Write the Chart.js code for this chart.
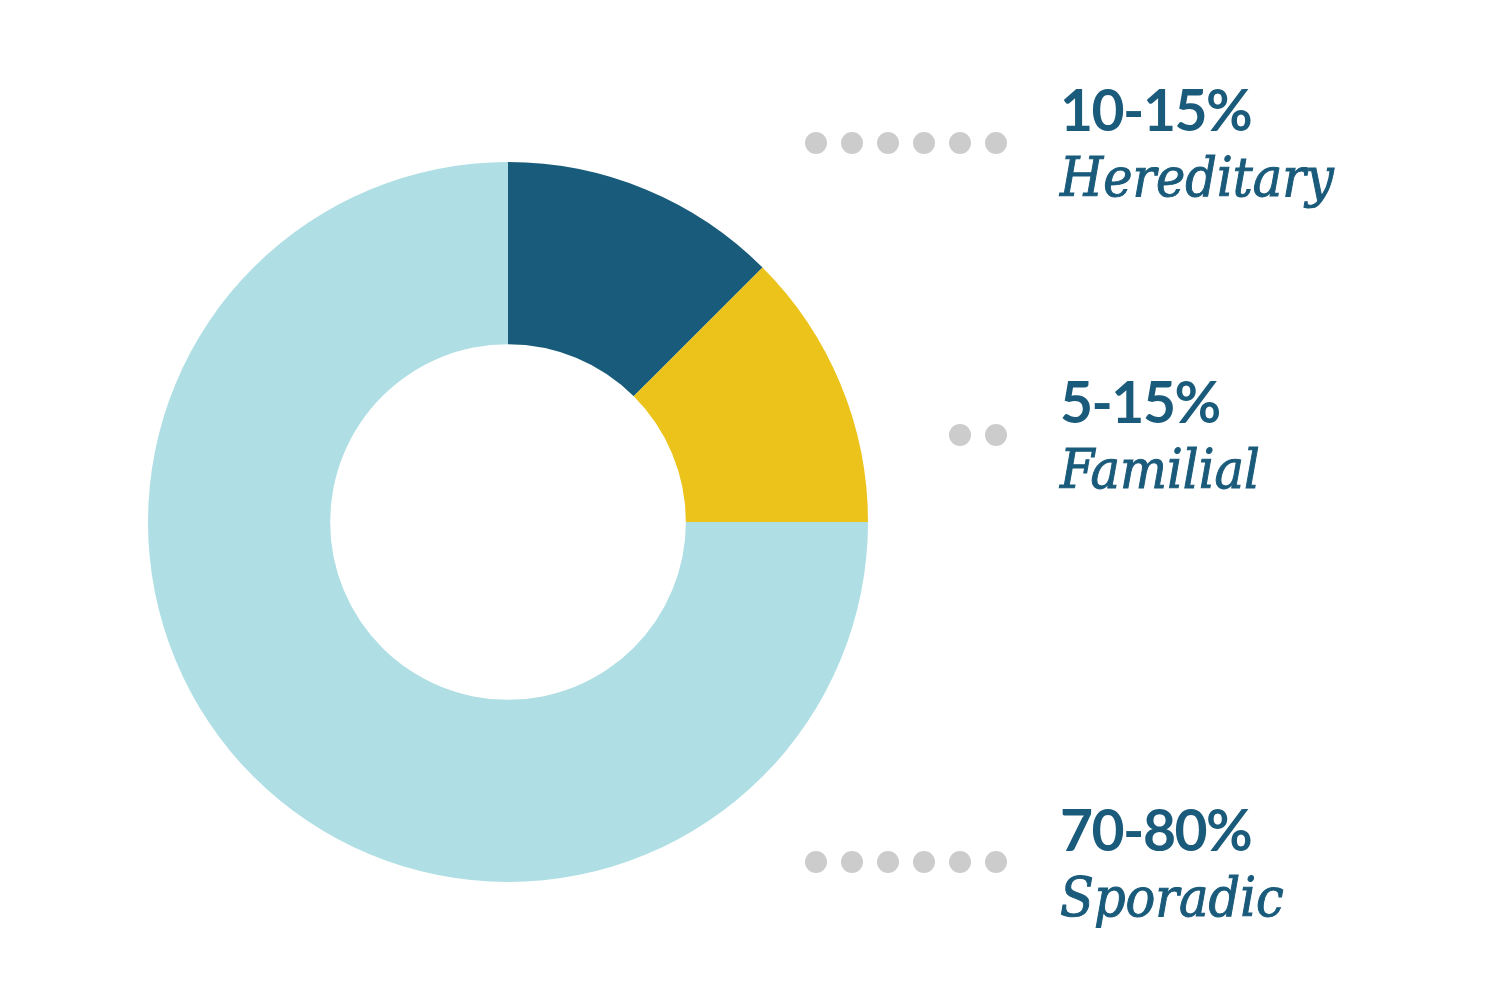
<!DOCTYPE html>
<html>
<head>
<meta charset="utf-8">
<script src="https://cdn.jsdelivr.net/npm/chart.js@4"></script>
<style>
  html, body { margin: 0; padding: 0; background: #ffffff; }
  body { width: 1500px; height: 1000px; position: relative; overflow: hidden; }
  #wrap { position: absolute; left: 148px; top: 162px; width: 720px; height: 720px; }
  .label { position: absolute; left: 1060px; color: #1a5b7b; white-space: nowrap; }
  .pct { font-family: "Lato", sans-serif; font-weight: 700; font-size: 57px; line-height: 58px; letter-spacing: -1.5px; }
  .name { font-family: "DejaVu Serif Condensed", "DejaVu Serif", serif; font-style: italic; font-weight: 400; font-size: 55px; line-height: 60px; -webkit-text-stroke: 1px #1a5b7b; }
  .dots { position: absolute; height: 22px; }
  .dot { position: absolute; top: 0; width: 22px; height: 22px; border-radius: 50%; background: #cccccc; }
</style>
</head>
<body>
<div id="wrap"><canvas id="donut"></canvas></div>
<div id="labels"></div>
<script>
const categories = ["Hereditary", "Familial", "Sporadic"];
const shares = [12.5, 12.5, 75];
const ranges = ["10-15%", "5-15%", "70-80%"];
const colors = ["#185b7a", "#ebc31b", "#afdfe4"];
const dotCounts = [6, 2, 6];

// label block positions (top of the range text), right column
const labelTops = [80, 372, 800];
const dotRows = [143, 435, 862];

const labels = document.getElementById("labels");
for (let i = 0; i < categories.length; i++) {
  const pct = document.createElement("div");
  pct.className = "label pct";
  pct.style.top = labelTops[i] + "px";
  pct.textContent = ranges[i];
  labels.appendChild(pct);

  const name = document.createElement("div");
  name.className = "label name";
  name.style.top = labelTops[i] + 67 + "px";
  name.textContent = categories[i];
  labels.appendChild(name);

  const row = document.createElement("div");
  row.className = "dots";
  row.style.top = dotRows[i] - 11 + "px";
  row.style.left = "805px";
  for (let d = 0; d < dotCounts[i]; d++) {
    const dot = document.createElement("div");
    dot.className = "dot";
    dot.style.left = (5 - d) * 36 + "px";
    row.appendChild(dot);
  }
  labels.appendChild(row);
}

const ctx = document.getElementById("donut").getContext("2d");
new Chart(ctx, {
  type: "doughnut",
  data: {
    labels: categories,
    datasets: [
      {
        data: shares,
        backgroundColor: colors,
        borderWidth: 0,
        hoverOffset: 0,
      },
    ],
  },
  options: {
    responsive: true,
    maintainAspectRatio: false,
    animation: false,
    cutout: "49.4%",
    layout: { padding: 0 },
    plugins: {
      legend: { display: false },
      tooltip: { enabled: false },
    },
  },
});
</script>
</body>
</html>
